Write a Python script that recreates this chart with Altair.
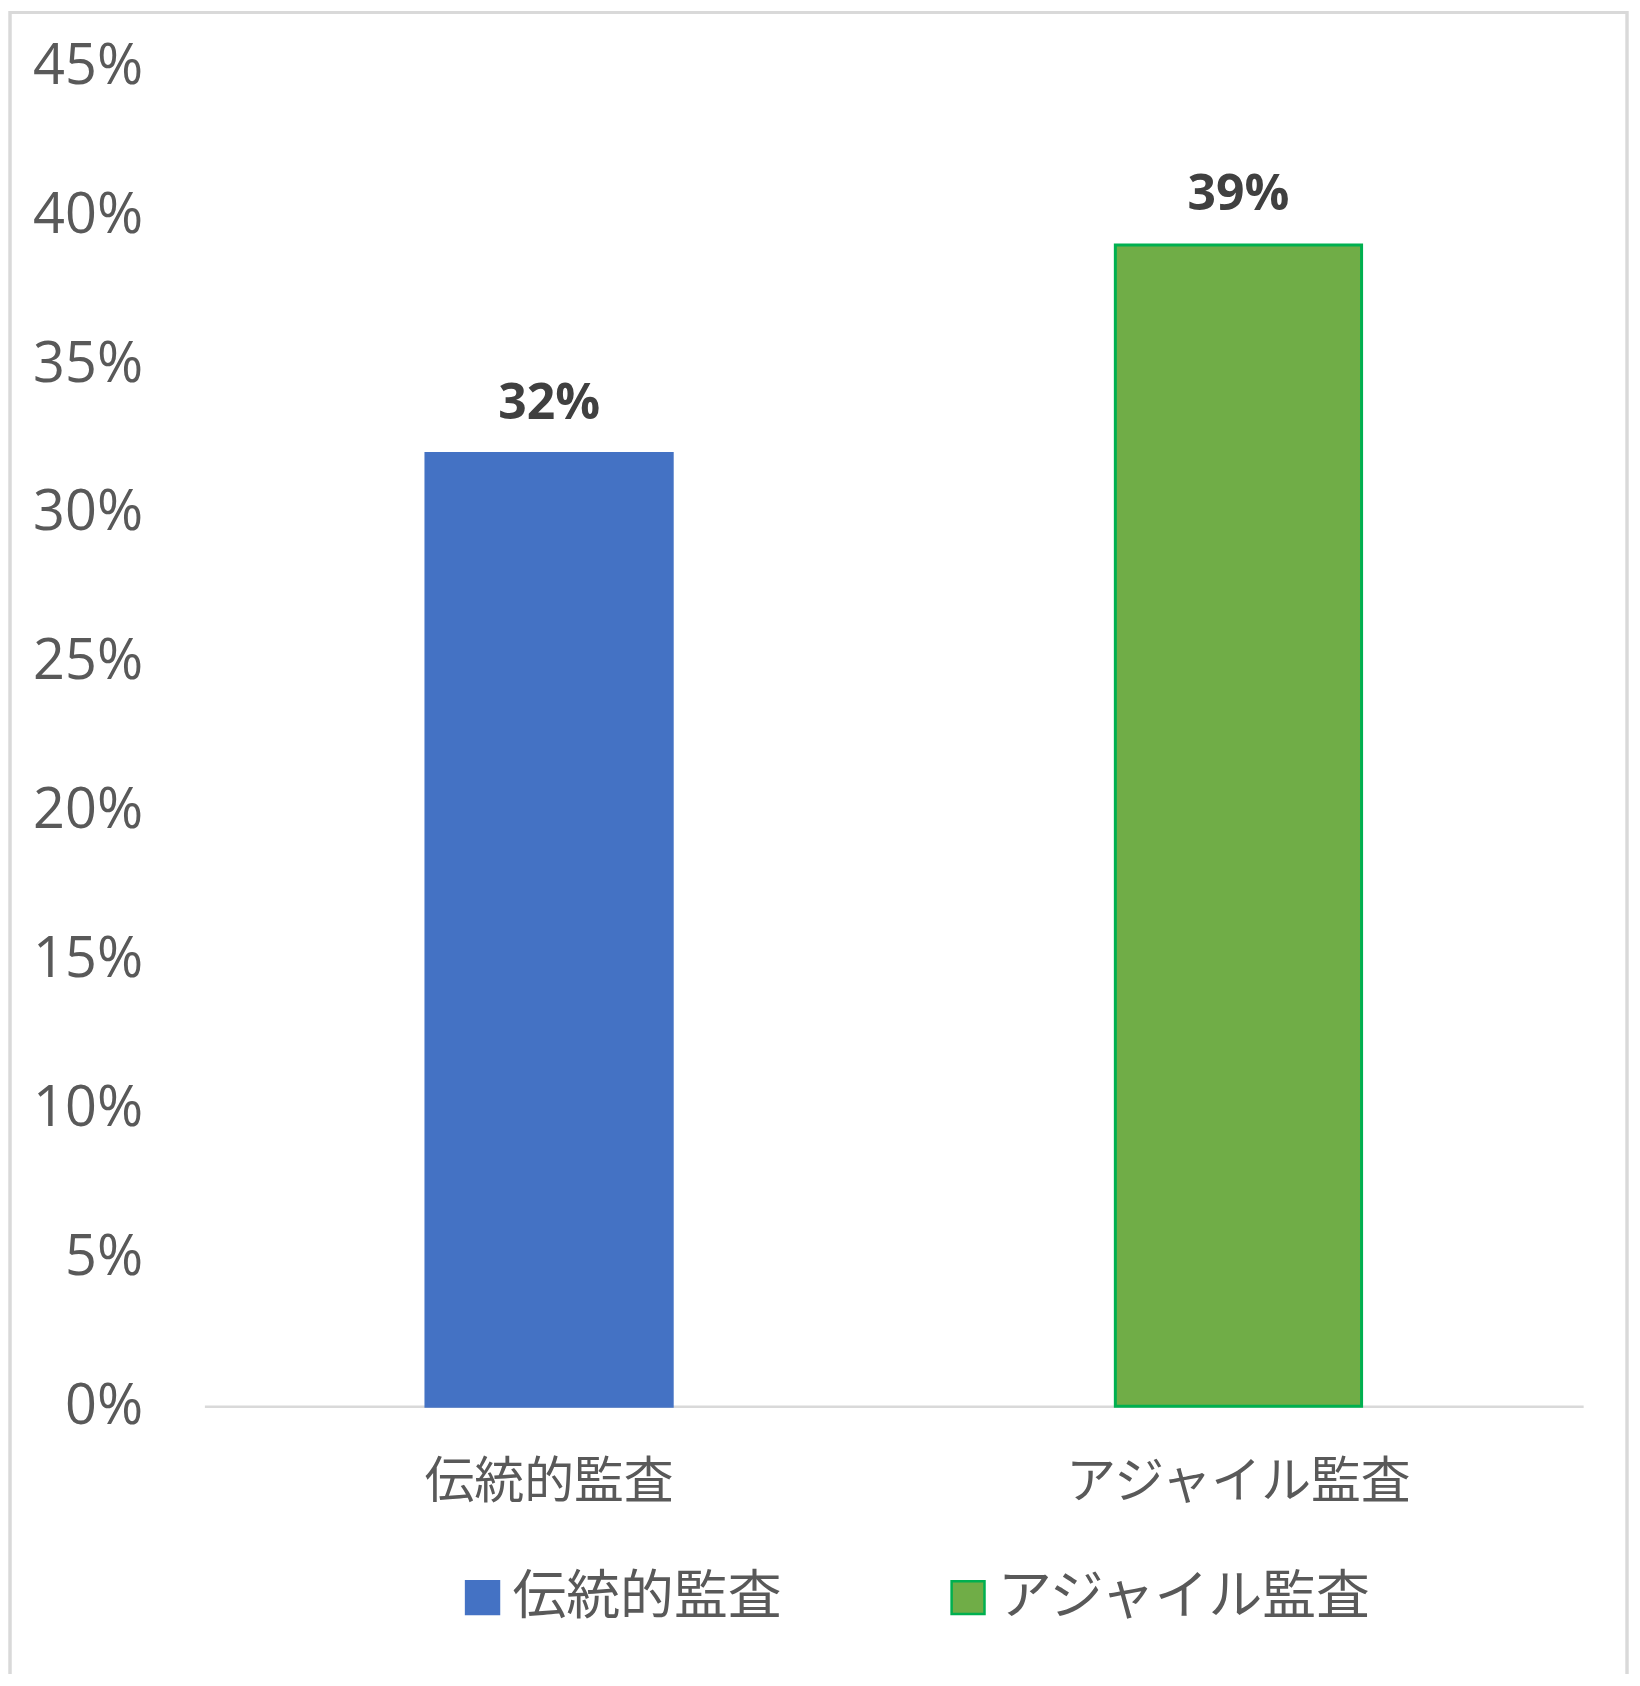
import altair as alt
import pandas as pd

categories = ["伝統的監査", "アジャイル監査"]
values = [0.32, 0.39]
fill_colors = ["#4472C4", "#70AD47"]
stroke_colors = ["#4472C4", "#00B050"]
y_ticks = [0, 0.05, 0.10, 0.15, 0.20, 0.25, 0.30, 0.35, 0.40, 0.45]

df = pd.DataFrame({"cat": categories, "val": values})

x_enc = alt.X("cat:N", sort=categories, title=None,
              scale=alt.Scale(paddingInner=0, paddingOuter=0),
              axis=alt.Axis(labelAngle=0, labelFont="Noto Sans CJK JP", labelFontSize=50,
                            labelColor="#595959", ticks=False, domainColor="#d9d9d9",
                            domainWidth=2.5, labelPadding=52, labelBaseline="top",
                            labelLimit=1000))
y_enc = alt.Y("val:Q", title=None,
              scale=alt.Scale(domain=[0, 0.45], nice=False, zero=True),
              axis=alt.Axis(values=y_ticks, format=".0%", grid=False, domain=False, ticks=False,
                            labelFont="Open Sans", labelFontSize=56, labelColor="#595959",
                            labelPadding=62))

legend = alt.Legend(title=None, orient="none", legendX=252, legendY=1509,
                    direction="horizontal", symbolType="square", symbolSize=1089,
                    symbolStrokeWidth=2.5, labelFont="Noto Sans CJK JP", labelFontSize=54,
                    labelColor="#595959", labelOffset=3, columnPadding=160, labelLimit=1000)

bars = alt.Chart(df).mark_bar(size=247, strokeWidth=3).encode(
    x=x_enc,
    y=y_enc,
    fill=alt.Fill("cat:N", sort=categories,
                  scale=alt.Scale(domain=categories, range=fill_colors), legend=legend),
    stroke=alt.Stroke("cat:N", sort=categories,
                      scale=alt.Scale(domain=categories, range=stroke_colors), legend=legend),
)

labels = alt.Chart(df).mark_text(font="Open Sans", fontWeight="bold", fontSize=50,
                                 color="#404040", baseline="alphabetic", dy=-35).encode(
    x=alt.X("cat:N", sort=categories),
    y=alt.Y("val:Q"),
    text=alt.Text("val:Q", format=".0%"),
)

frame = alt.Chart(df).mark_rect(fill=None, stroke="#d9d9d9", strokeWidth=3).encode(
    x=alt.value(-195), x2=alt.value(1427), y=alt.value(-54), y2=alt.value(1614)
)

chart = alt.layer(frame, bars, labels).properties(
    width=1383, height=1344,
    padding={"left": 197, "top": 56, "right": 49, "bottom": 266},
    autosize=alt.AutoSizeParams(type="none"),
    background="white",
).configure_view(stroke=None)

chart.save("out.html", embed_options={"renderer": "svg", "actions": False})
